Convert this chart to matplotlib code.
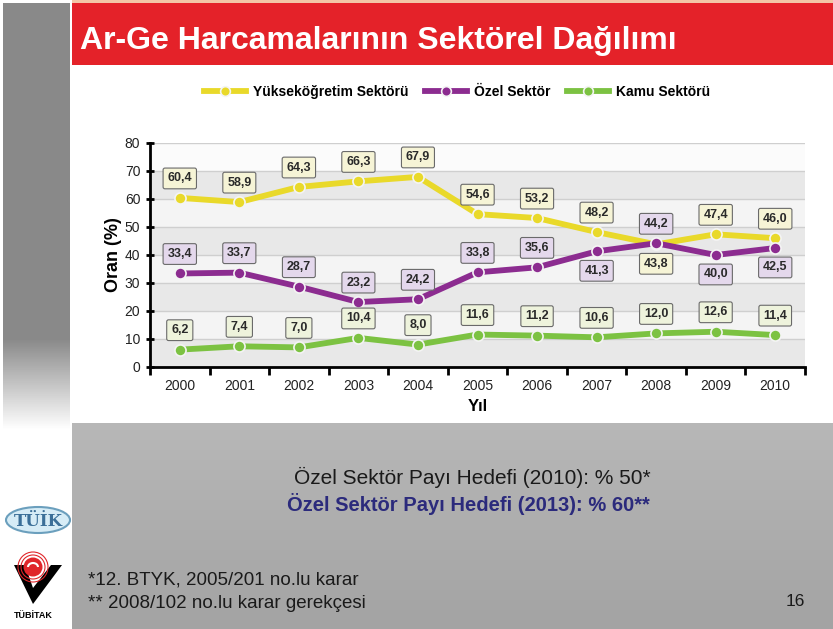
import numpy as np
import matplotlib.pyplot as plt
from matplotlib.patches import Rectangle, Ellipse, Polygon, Circle, Arc
from matplotlib.lines import Line2D

plt.rcParams['font.family'] = ['Liberation Sans', 'DejaVu Sans']

# data
years = ['2000', '2001', '2002', '2003', '2004', '2005', '2006', '2007', '2008', '2009', '2010']
yuksek = [60.4, 58.9, 64.3, 66.3, 67.9, 54.6, 53.2, 48.2, 43.8, 47.4, 46.0]
ozel = [33.4, 33.7, 28.7, 23.2, 24.2, 33.8, 35.6, 41.3, 44.2, 40.0, 42.5]
kamu = [6.2, 7.4, 7.0, 10.4, 8.0, 11.6, 11.2, 10.6, 12.0, 12.6, 11.4]
series_names = ['Yükseköğretim Sektörü', 'Özel Sektör', 'Kamu Sektörü']

# label above (+1) or below (-1) the point
yuksek_side = [1, 1, 1, 1, 1, 1, 1, 1, -1, 1, 1]
ozel_side = [1, 1, 1, 1, 1, 1, 1, -1, 1, -1, -1]
kamu_side = [1] * 11

fig = plt.figure(figsize=(8.33, 6.29), dpi=100)

# slide background drawn in pixel coordinates
bg = fig.add_axes([0, 0, 1, 1])
bg.axis('off')

# left gray strip, fades out at the bottom
strip = np.ones((200, 1, 3))
for i in range(200):
    y = 3 + i * (430 - 3) / 199
    t = 0 if y < 340 else min(1, (y - 340) / 90)
    g = 0.54 * (1 - t) + 1.0 * t
    strip[i, 0] = [g, g, g]
bg.imshow(strip, extent=(3, 70, 430, 3), aspect='auto')

# bottom gray panel with vertical gradient
panel = np.ones((100, 1, 3))
for i in range(100):
    g = 0.72 - 0.08 * i / 99
    panel[i, 0] = [g, g, g]
bg.imshow(panel, extent=(72, 833, 629, 423), aspect='auto')

bg.set_xlim(0, 833)
bg.set_ylim(629, 0)

# red title bar
bg.add_patch(Rectangle((72, 0), 761, 3, color='#f3c6a6', lw=0))
bg.add_patch(Rectangle((72, 3), 761, 62, color='#e42229', lw=0))
bg.text(80, 41, 'Ar-Ge Harcamalarının Sektörel Dağılımı', color='white',
        fontsize=23, fontweight='bold', va='center', ha='left')

# bottom texts
bg.text(472, 477, 'Özel Sektör Payı Hedefi (2010): % 50*', fontsize=15,
        ha='center', va='center', color='#1a1a1a')
bg.text(468, 504, 'Özel Sektör Payı Hedefi (2013): % 60**', fontsize=14.5,
        fontweight='bold', ha='center', va='center', color='#2b2a7c')
bg.text(88, 580, '*12. BTYK, 2005/201 no.lu karar', fontsize=13.5,
        ha='left', va='center', color='#1a1a1a')
bg.text(88, 604, '** 2008/102 no.lu karar gerekçesi', fontsize=13.5,
        ha='left', va='center', color='#1a1a1a')
bg.text(795, 602, '16', fontsize=12.5, ha='center', va='center', color='#1a1a1a')

# TÜİK logo
bg.add_patch(Ellipse((38, 520), 64, 26, fc='#d6ecf6', ec='#6b9fbd', lw=1.5))
bg.text(38, 521, 'TÜİK', fontsize=12, fontweight='bold', family='DejaVu Serif',
        color='#3b6f98', ha='center', va='center')

# TÜBİTAK logo
bg.add_patch(Polygon([(14, 565), (62, 565), (33, 604)], closed=True, fc='black', lw=0))
bg.add_patch(Polygon([(25, 565), (51, 565), (33, 588)], closed=True, fc='white', lw=0))
for r in [12, 15]:
    bg.add_patch(Circle((33, 567), r, fill=False, ec='#e0262b', lw=0.8))
bg.add_patch(Circle((33, 567), 9.5, fc='#e0262b', lw=0))
bg.add_patch(Arc((33, 567), 10, 8, theta1=180, theta2=360, color='white', lw=1.5))
bg.text(33, 616, 'TÜBİTAK', fontsize=6.5, fontweight='bold', ha='center', va='center')

# main chart
ax = fig.add_axes([150 / 833, 1 - 367 / 629, 655 / 833, 224 / 629])
ax.set_facecolor('#f4f4f4')
x = np.arange(len(years))

# alternating light bands behind the lines
for lo in range(0, 80, 20):
    ax.axhspan(lo, lo + 10, color='#e8e8e8', lw=0, zorder=0)
ax.axhspan(70, 80, color='#fbfbfb', lw=0, zorder=0)

styles = [
    (yuksek, yuksek_side, '#e9d92a', '#f6f4d6'),
    (ozel, ozel_side, '#8c2c90', '#e4d8ec'),
    (kamu, kamu_side, '#7cc242', '#eef3dc'),
]
handles = []
for (vals, sides, col, boxcol), name in zip(styles, series_names):
    ax.plot(x, vals, color=col, lw=4.2, solid_capstyle='round', zorder=3)
    ax.plot(x, vals, 'o', ms=8, mfc=col, mec='#f4f4f4', mew=1.2, zorder=4)
    for xi, v, s in zip(x, vals, sides):
        ax.annotate(f'{v:.1f}'.replace('.', ','), (xi, v), xytext=(0, 14 * s),
                    textcoords='offset points', ha='center', va='center',
                    fontsize=9, fontweight='bold', color='#2a2a2a', zorder=5,
                    bbox=dict(boxstyle='round,pad=0.35,rounding_size=0.15',
                              fc=boxcol, ec='#6a6a6a', lw=0.8))
    handles.append(Line2D([], [], color=col, lw=4.2, marker='o', ms=7,
                          mfc=col, mec='#f4f4f4', mew=1.2))

ax.set_xlim(-0.5, 10.5)
ax.set_ylim(0, 80)
ax.set_yticks(range(0, 81, 10))
ax.set_xticks(np.arange(-0.5, 11, 1))
ax.set_xticks(x, minor=True)
ax.set_xticklabels([])
ax.set_xticklabels(years, minor=True)
ax.tick_params(axis='x', which='major', length=6, width=2, direction='out')
ax.tick_params(axis='x', which='minor', length=0, pad=9, labelsize=10, labelcolor='#222222')
ax.tick_params(axis='y', length=6, width=2, direction='inout', labelsize=10,
               labelcolor='#222222', pad=4)
ax.yaxis.grid(True, color='#cfcfcf', lw=1)
ax.set_axisbelow(True)
for sp in ['top', 'right']:
    ax.spines[sp].set_visible(False)
for sp in ['left', 'bottom']:
    ax.spines[sp].set_linewidth(2)
ax.set_ylabel('Oran (%)', fontsize=13, fontweight='bold', labelpad=2)
ax.set_xlabel('Yıl', fontsize=12, fontweight='bold', labelpad=4)

fig.legend(handles, series_names, loc='center', bbox_to_anchor=(457 / 833, 1 - 92 / 629),
           ncol=3, frameon=False, handlelength=3.0, columnspacing=1.2, handletextpad=0.5,
           prop={'weight': 'bold', 'size': 10})

fig.savefig('out.png', dpi=100)
